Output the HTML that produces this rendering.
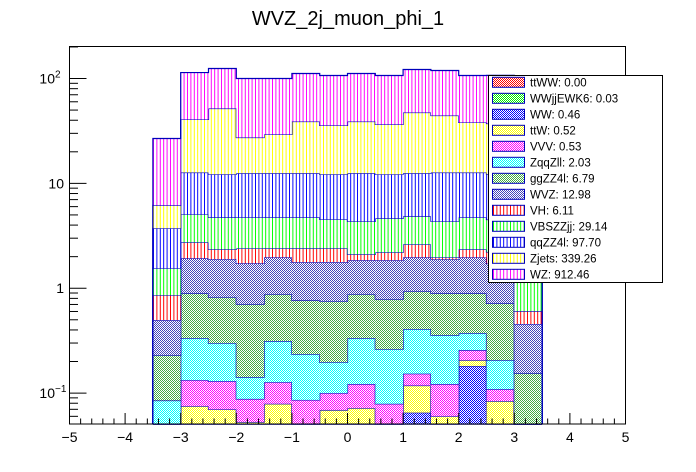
<!DOCTYPE html>
<html><head><meta charset="utf-8"><style>
body{margin:0;background:#fff}
svg{display:block;font-family:"Liberation Sans",sans-serif}
pattern rect{shape-rendering:crispEdges}
</style></head><body>
<svg id="c" width="696" height="472" viewBox="0 0 696 472">
<defs>
</defs>
<text x="348" y="25" font-size="20" text-anchor="middle">WVZ_2j_muon_phi_1</text>
<g id="plot"></g>
<rect x="69.5" y="46.5" width="556" height="377.5" fill="none" stroke="#000"/>
<g id="axes"></g>
<g id="legend"></g>
</svg>
<script>
const binEdgesLow = [-3.5,-3,-2.5,-2,-1.5,-1,-0.5,0,0.5,1,1.5,2,2.5,3];
const binWidth = 0.5;
const seriesNames = ["ttWW","WWjjEWK6","WW","ttW","VVV","ZqqZll","ggZZ4l","WVZ","VH","VBSZZjj","qqZZ4l","Zjets","WZ"];
const seriesTotals = ["0.00","0.03","0.46","0.52","0.53","2.03","6.79","12.98","6.11","29.14","97.70","339.26","912.46"];
const ttWW     = [0,0,0,0,0,0,0,0,0,0,0,0,0,0];
const WWjjEWK6 = [0,0.002,0.002,0.002,0.002,0.002,0.002,0.002,0.002,0.002,0.002,0.002,0.002,0];
const WW       = [0,0.003,0.003,0.003,0.003,0.003,0.003,0.003,0.003,0.063,0.003,0.179,0.003,0];
const ttW      = [0,0.070,0.065,0.048,0.074,0,0.064,0.067,0,0.053,0.055,0.025,0.079,0];
const VVV      = [0,0.058,0.060,0.035,0.048,0.081,0.031,0.050,0.074,0.035,0.062,0.051,0.025,0];
const ZqqZll   = [0.085,0.201,0.169,0.054,0.186,0.149,0.097,0.212,0.183,0.255,0.235,0.116,0.097,0];
const ggZZ4l   = [0.145,0.562,0.522,0.563,0.564,0.533,0.555,0.543,0.524,0.529,0.539,0.523,0.513,0.155];
const WVZ      = [0.266,1.03,1.07,1.02,1.09,1.0,1.02,0.97,1.06,1.03,0.99,1.07,1.0,0.30];
const VH       = [0.362,0.81,0.46,0.67,0.43,0.63,0.63,0.26,0.35,0.65,0.08,0.38,0.5,0.15];
const VBSZZjj  = [0.69,2.33,2.39,2.34,2.34,2.34,2.14,2.24,2.44,2.23,2.38,2.39,2.3,0.8];
const qqZZ4l   = [2.18,7.63,7.46,7.76,7.76,7.76,7.66,8.15,7.56,7.65,8.35,7.96,7.7,2.0];
const Zjets    = [2.44,28.0,39.6,14.9,16.8,26.4,23.5,26.4,24.3,34.9,31.7,25.4,25.0,2.2];
const WZ       = [20.6,73.3,72.7,72.6,70.7,72.7,71.1,72.7,70.3,74.4,74.8,68.7,70.0,18.0];
const seriesValues = [ttWW,WWjjEWK6,WW,ttW,VVV,ZqqZll,ggZZ4l,WVZ,VH,VBSZZjj,qqZZ4l,Zjets,WZ];
const xTicks = [-5,-4,-3,-2,-1,0,1,2,3,4,5];
const yTicks = [0.1,1,10,100];
const yTickLabels = [["10","−1"],["1",""],["10",""],["10","2"]];

const NS="http://www.w3.org/2000/svg";
const X0=69.5,X1=625.5,Y0=424,Y1=46.5;
const xMin=-5,xMax=5,yMinLog=Math.log10(0.0507),yMaxLog=Math.log10(202);
function sx(x){return X0+(x-xMin)/(xMax-xMin)*(X1-X0);}
function sy(v){if(v<=0)return Y0;const l=Math.log10(v);let y=Y0-(l-yMinLog)/(yMaxLog-yMinLog)*(Y0-Y1);return Math.max(Y1,Math.min(Y0,y));}
function el(t,a,p){const e=document.createElementNS(NS,t);for(const k in a)e.setAttribute(k,a[k]);p.appendChild(e);return e;}

const styles=[["#ff0000","chk"],["#00ee00","chk"],["#0000ff","chk"],["#ffff00","chk"],["#ff00ff","chk"],["#00ffff","chk"],["#44aa44","chk"],["#4444bb","chk"],["#ff0000","vl"],["#00ff00","vl"],["#0000ff","vl"],["#ffff00","vl"],["#ff00ff","vl"]];
const defs=document.querySelector("defs");
styles.forEach((s,i)=>{
  let p;
  if(s[1]==="chk"){
    p=el("pattern",{id:"p"+i,width:2,height:2,patternUnits:"userSpaceOnUse"},defs);
    el("rect",{x:0,y:0,width:2,height:2,fill:"#fff"},p);
    el("rect",{x:0,y:0,width:1,height:1,fill:s[0]},p);
    el("rect",{x:1,y:1,width:1,height:1,fill:s[0]},p);
  } else {
    p=el("pattern",{id:"p"+i,width:3.4,height:4,patternUnits:"userSpaceOnUse"},defs);
    el("rect",{x:0,y:0,width:3.4,height:4,fill:"#fff"},p);
    el("rect",{x:0,y:0,width:1.2,height:4,fill:s[0]},p);
  }
});

const plot=document.getElementById("plot");
const nb=binEdgesLow.length;
let prev=new Array(nb).fill(0);
const stroke="#0000bb";
seriesValues.forEach((vals,si)=>{
  const cum=prev.map((p,i)=>p+vals[i]);
  const g=el("g",{},plot);
  
  
  for(let i=0;i<nb;i++){
    const xa=sx(binEdgesLow[i]),xb=sx(binEdgesLow[i]+binWidth);
    const yt=sy(cum[i]),yb=sy(prev[i]);
    if(yb-yt>0.01){
      const r=el("rect",{x:xa,y:yt,width:xb-xa,height:yb-yt,fill:"url(#p"+si+")"},g);
      
      
    }
  }
  let d="M"+sx(binEdgesLow[0])+","+Y0;
  for(let i=0;i<nb;i++){const y=sy(cum[i]);d+=" L"+sx(binEdgesLow[i])+","+y+" L"+sx(binEdgesLow[i]+binWidth)+","+y;}
  d+=" L"+sx(binEdgesLow[nb-1]+binWidth)+","+Y0;
  const pth=el("path",{d:d,fill:"none",stroke:stroke,"stroke-width":1.2},g);
  
  
  prev=cum;
});

const axes=document.getElementById("axes");
for(let k=0;k<=50;k++){
  const xv=xMin+k*0.2;const x=sx(xv);const major=(k%5===0);
  el("line",{x1:x,x2:x,y1:Y0,y2:Y0-(major?11:5.5),stroke:"#000"},axes);
}
xTicks.forEach(v=>{
  const t=el("text",{x:sx(v),y:442,"font-size":14,"text-anchor":"middle"},axes);
  t.textContent=(v<0?"−":"")+Math.abs(v);
  
  
});
for(let e=-2;e<=2;e++){
  for(let m=1;m<=9;m++){
    const v=m*Math.pow(10,e);
    if(v<0.0507||v>202)continue;
    const y=sy(v);
    el("line",{x1:X0,x2:X0+(m===1?17:8.5),y1:y,y2:y,stroke:"#000"},axes);
  }
}
yTicks.forEach((v,i)=>{
  const y=sy(v);
  const t=el("text",{x:i===1?64:(yTickLabels[i][1]?55:64),y:y+5,"font-size":14,"text-anchor":"end"},axes);
  t.textContent=yTickLabels[i][0];
  
  
  if(yTickLabels[i][1]){
    const s=el("text",{x:55,y:y-1,"font-size":10,"text-anchor":"start"},axes);
    s.textContent=yTickLabels[i][1];
    
    
  }
});

const lg=document.getElementById("legend");
el("rect",{x:488.5,y:75.5,width:174,height:207,fill:"#fff",stroke:"#000"},lg);
seriesNames.forEach((n,i)=>{
  const cy=82.3+i*16;
  const g=el("g",{},lg);
  
  
  el("rect",{x:492.5,y:cy-5,width:32,height:10,fill:"url(#p"+i+")",stroke:stroke,"stroke-width":1},g);
  const t=el("text",{x:530,y:cy+4,"font-size":11.5},g);
  t.textContent=n+": "+seriesTotals[i];
});
</script>
</body></html>
